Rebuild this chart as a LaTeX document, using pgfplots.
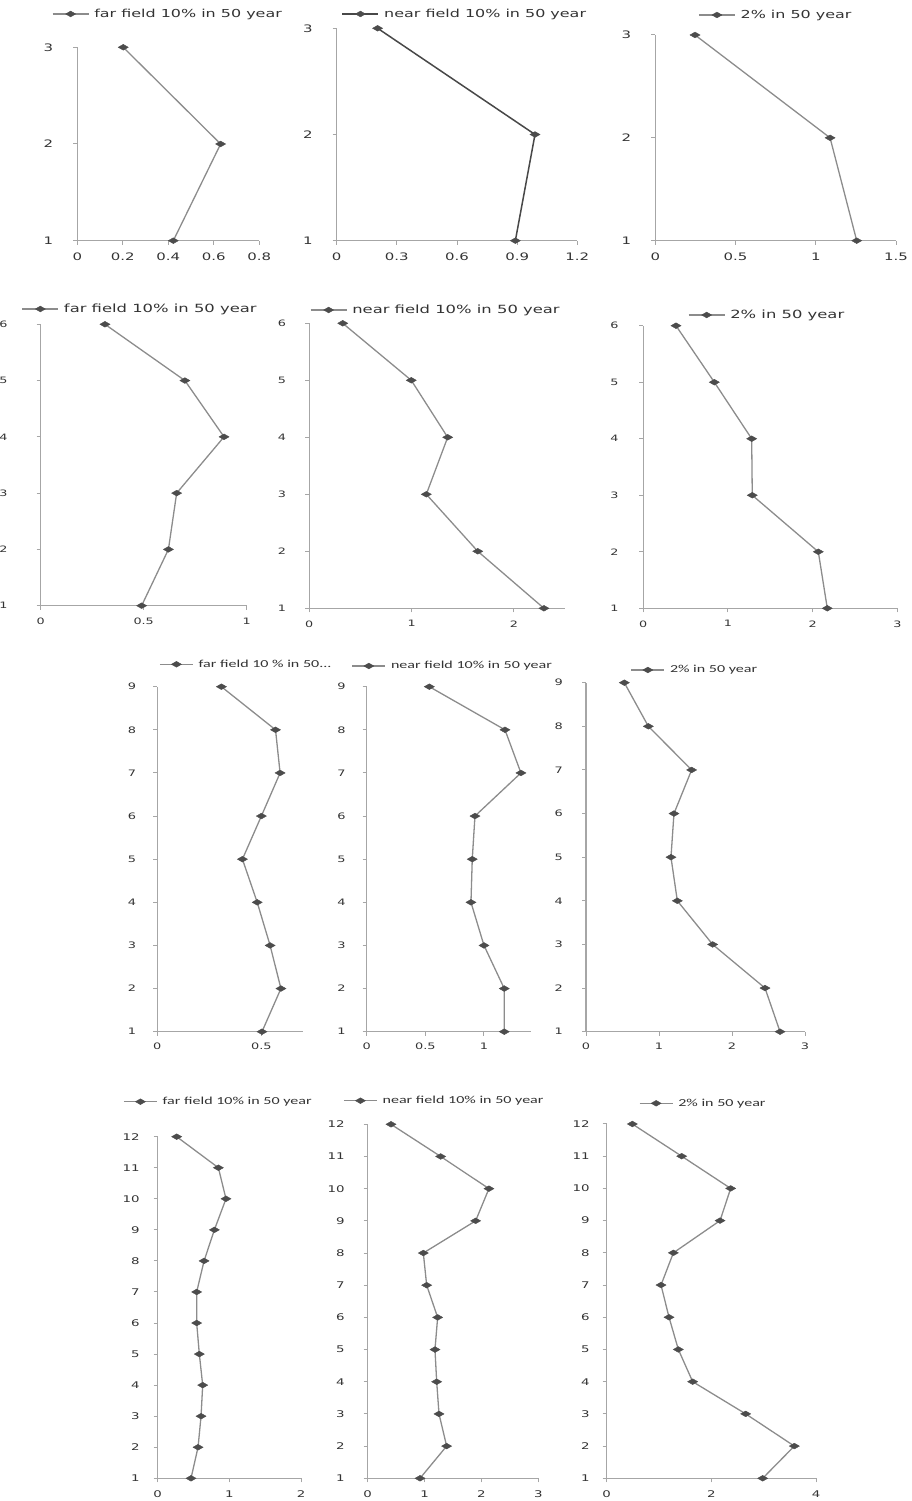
\documentclass[border=0pt]{standalone}
\usepackage{fontspec}
\setmainfont{DejaVu Sans}
\newfontfamily\tf[FakeStretch=1.45]{DejaVu Sans}
\newfontfamily\lf[FakeStretch=1.5]{Carlito}
\usepackage{pgfplots}
\pgfplotsset{compat=1.18}
\definecolor{axg}{HTML}{A6A6A6}
\definecolor{lng}{HTML}{8C8C8C}
\definecolor{dkl}{HTML}{484848}
\definecolor{mkg}{HTML}{4C4C4C}
\definecolor{txg}{HTML}{333333}
\pgfplotsset{
  pan/.style={
    scale only axis, anchor=south west, clip=false,
    axis lines=left, axis line style={-, draw=axg, line width=1.3pt},
    tick style={draw=axg, line width=1pt}, tick align=outside, major tick length=4pt,
    ymin=1, xmin=0, ytick distance=1,
    /pgf/number format/assume math mode=true,
    ticklabel style={text=txg},
    yticklabel style={anchor=east, inner sep=0pt},
    xticklabel style={anchor=north, inner sep=0pt},
    legend style={at={(0,1)}, anchor=west, draw=none, fill=none, inner sep=0pt, outer sep=0pt,
      nodes={inner sep=0pt, text=txg}, /tikz/every odd column/.append style={column sep=5pt}},
    legend image code/.code={\draw[mark repeat=2,mark phase=2,##1] plot coordinates {(0pt,0pt) (18pt,0pt) (36pt,0pt)};},
  },
  ser/.style={color=lng, line width=1.3pt, mark=diamond*, mark size=3.2pt,
    mark options={fill=mkg, draw=mkg, line width=0.4pt, xscale=2.1, yscale=0.9}},
  rowA/.style={ticklabel style={font=\tf\fontsize{10.3}{12}\selectfont}, legend style={font=\tf\fontsize{11}{13}\selectfont},
    xticklabel style={yshift=-8pt}},
  rowB/.style={ticklabel style={font=\tf\fontsize{8.8}{10}\selectfont}, legend style={font=\tf\fontsize{11.3}{13}\selectfont},
    xticklabel style={yshift=-8pt}},
  rowC/.style={ticklabel style={font=\tf\fontsize{8.9}{10}\selectfont}, legend style={font=\lf\fontsize{10.7}{12}\selectfont},
    xticklabel style={yshift=-7pt},
    legend image code/.code={\draw[mark repeat=2,mark phase=2,##1] plot coordinates {(0pt,0pt) (16.5pt,0pt) (33pt,0pt)};}},
  rowD/.style={ticklabel style={font=\tf\fontsize{9.2}{11}\selectfont}, legend style={font=\lf\fontsize{10.7}{12}\selectfont},
    xticklabel style={yshift=-8pt},
    legend image code/.code={\draw[mark repeat=2,mark phase=2,##1] plot coordinates {(0pt,0pt) (16.5pt,0pt) (33pt,0pt)};}},
}
\begin{document}
\begin{tikzpicture}
\useasboundingbox (0pt,0pt) rectangle (912pt,1501pt);
% ---------------- row 1
\begin{axis}[pan, rowA, at={(77.3pt,1260.3pt)}, width=182pt, height=193.4pt,
  xmax=0.8, ymax=3, xtick={0,0.2,0.4,0.6,0.8},
  yticklabel style={xshift=-20pt},
  legend style={xshift=-25.3pt, yshift=33.3pt}]
\addplot[ser] coordinates {(0.422,1) (0.630,2) (0.202,3)};
\addlegendentry{far field 10\% in 50 year}
\end{axis}
\begin{axis}[pan, rowA, at={(336.7pt,1260.3pt)}, width=240.6pt, height=212.4pt,
  xmax=1.2, ymax=3, xtick={0,0.3,0.6,0.9,1.2},
  yticklabel style={xshift=-20pt},
  legend style={xshift=5pt, yshift=14.3pt}]
\addplot[ser, color=dkl, line width=1.5pt] coordinates {(0.891,1) (0.989,2) (0.204,3)};
\addlegendentry{near field 10\% in 50 year}
\end{axis}
\begin{axis}[pan, rowA, at={(655.4pt,1260.3pt)}, width=240.6pt, height=205.7pt,
  xmax=1.5, ymax=3, xtick={0,0.5,1,1.5},
  yticklabel style={xshift=-20pt},
  legend style={xshift=42.9pt, yshift=20pt}]
\addplot[ser] coordinates {(1.255,1) (1.089,2) (0.247,3)};
\addlegendentry{2\% in 50 year}
\end{axis}
% ---------------- row 2
\begin{axis}[pan, rowB, at={(40.7pt,895.3pt)}, width=206pt, height=281.4pt,
  xmax=1, ymax=6, xtick={0,0.5,1},
  yticklabel style={xshift=-29pt},
  legend style={xshift=-19pt, yshift=15.3pt}]
\addplot[ser] coordinates {(0.49,1) (0.62,2) (0.66,3) (0.89,4) (0.70,5) (0.312,6)};
\addlegendentry{far field 10\% in 50 year}
\end{axis}
\begin{axis}[pan, rowB, at={(309.3pt,892.7pt)}, width=255.7pt, height=285pt,
  xmax=2.5, ymax=6, xtick={0,1,2},
  yticklabel style={xshift=-19pt},
  legend style={xshift=0.7pt, yshift=13.3pt}]
\addplot[ser] coordinates {(2.294,1) (1.647,2) (1.144,3) (1.353,4) (0.997,5) (0.327,6)};
\addlegendentry{near field 10\% in 50 year}
\end{axis}
\begin{axis}[pan, rowB, at={(643.3pt,892.7pt)}, width=254pt, height=282.6pt,
  xmax=3, ymax=6, xtick={0,1,2,3},
  yticklabel style={xshift=-20.7pt},
  legend style={xshift=44.7pt, yshift=10.7pt}]
\addplot[ser] coordinates {(2.173,1) (2.067,2) (1.287,3) (1.28,4) (0.839,5) (0.386,6)};
\addlegendentry{2\% in 50 year}
\end{axis}
% ---------------- row 3
\begin{axis}[pan, rowC, at={(157.3pt,469.3pt)}, width=145.7pt, height=345pt,
  xmax=0.7, ymax=9, xtick={0,0.5},
  yticklabel style={xshift=-17pt},
  legend style={xshift=2pt, yshift=22.4pt}]
\addplot[ser] coordinates {(0.503,1) (0.594,2) (0.542,3) (0.48,4) (0.409,5) (0.50,6) (0.590,7) (0.568,8) (0.308,9)};
\addlegendentry{far field 10 \% in 50...}
\end{axis}
\begin{axis}[pan, rowC, at={(366.7pt,469.3pt)}, width=164.2pt, height=345pt,
  xmax=1.4, ymax=9, xtick={0,0.5,1},
  yticklabel style={xshift=-17pt},
  legend style={xshift=-15pt, yshift=20.7pt}]
\addplot[ser] coordinates {(1.173,1) (1.173,2) (1.0,3) (0.889,4) (0.90,5) (0.923,6) (1.315,7) (1.179,8) (0.534,9)};
\addlegendentry{near field 10\% in 50 year}
\end{axis}
\begin{axis}[pan, rowC, at={(586pt,469.3pt)}, width=219pt, height=349pt,
  xmax=3, ymax=9, xtick={0,1,2,3},
  yticklabel style={xshift=-19pt},
  legend style={xshift=44.7pt, yshift=12.7pt}]
\addplot[ser] coordinates {(2.658,1) (2.452,2) (1.735,3) (1.251,4) (1.164,5) (1.205,6) (1.447,7) (0.854,8) (0.525,9)};
\addlegendentry{2\% in 50 year}
\end{axis}
% ---------------- row 4
\begin{axis}[pan, rowD, at={(157.7pt,22.7pt)}, width=143.3pt, height=341.6pt,
  xmax=2, ymax=12, xtick={0,1,2},
  yticklabel style={xshift=-14pt},
  legend style={xshift=-34.4pt, yshift=35pt}]
\addplot[ser] coordinates {(0.465,1) (0.563,2) (0.605,3) (0.628,4) (0.581,5) (0.544,6) (0.544,7) (0.647,8) (0.791,9) (0.953,10) (0.847,11) (0.265,12)};
\addlegendentry{far field 10\% in 50 year}
\end{axis}
\begin{axis}[pan, rowD, at={(367.7pt,22.7pt)}, width=170.6pt, height=354pt,
  xmax=3, ymax=12, xtick={0,1,2,3},
  yticklabel style={xshift=-19pt},
  legend style={xshift=-24.4pt, yshift=23.6pt}]
\addplot[ser] coordinates {(0.92,1) (1.388,2) (1.254,3) (1.213,4) (1.183,5) (1.23,6) (1.037,7) (0.978,8) (1.898,9) (2.132,10) (1.283,11) (0.41,12)};
\addlegendentry{near field 10\% in 50 year}
\end{axis}
\begin{axis}[pan, rowD, at={(606.7pt,22.7pt)}, width=209.3pt, height=354.3pt,
  xmax=4, ymax=12, xtick={0,2,4},
  yticklabel style={xshift=-13pt},
  legend style={xshift=32.3pt, yshift=20.7pt}]
\addplot[ser] coordinates {(2.981,1) (3.586,2) (2.656,3) (1.643,4) (1.369,5) (1.191,6) (1.038,7) (1.274,8) (2.166,9) (2.369,10) (1.433,11) (0.49,12)};
\addlegendentry{2\% in 50 year}
\end{axis}
\end{tikzpicture}
\end{document}
